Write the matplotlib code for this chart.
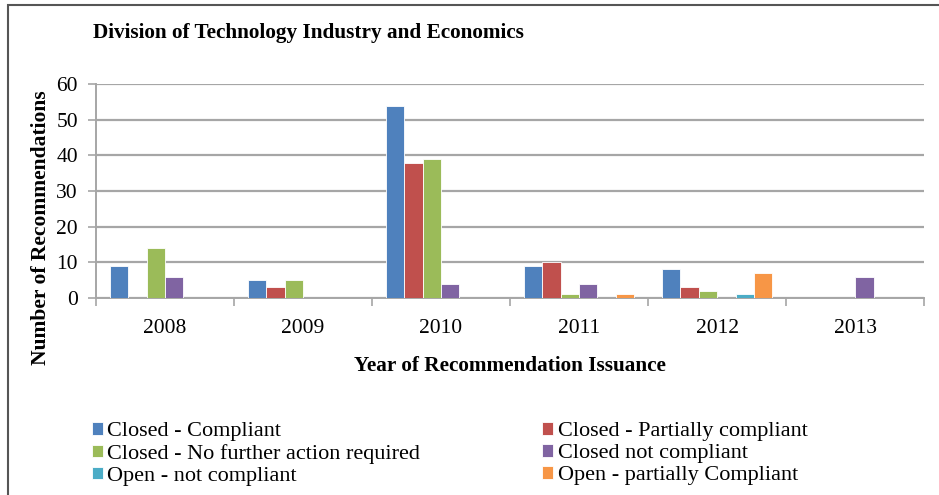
import numpy as np
from matplotlib import pyplot as plt
from matplotlib.patches import Rectangle

plt.rcParams['font.family'] = 'Liberation Serif'

# recommendations by year of issuance and status
years = ['2008', '2009', '2010', '2011', '2012', '2013']
closed_compliant = [9, 5, 54, 9, 8, 0]
closed_partial = [0, 3, 38, 10, 3, 0]
closed_no_action = [14, 5, 39, 1, 2, 0]
closed_not_compliant = [6, 0, 4, 4, 0, 6]
open_not_compliant = [0, 0, 0, 0, 1, 0]
open_partial = [0, 0, 0, 1, 7, 0]

series = [
    ('Closed - Compliant', closed_compliant, '#4F81BD'),
    ('Closed - Partially compliant', closed_partial, '#C0504D'),
    ('Closed - No further action required', closed_no_action, '#9BBB59'),
    ('Closed not compliant', closed_not_compliant, '#8064A2'),
    ('Open - not compliant', open_not_compliant, '#4BACC6'),
    ('Open - partially Compliant', open_partial, '#F79646'),
]

fig = plt.figure(figsize=(9.39, 4.95), dpi=100)
ax = fig.add_axes([0.1022, 0.398, 0.882, 0.432])

# excel-style clustered bars: gap width 150%
n = len(series)
bw = 1.0 / (n + 1.5)
x = np.arange(len(years))
handles = []
for i, (name, vals, col) in enumerate(series):
    b = ax.bar(x - 0.5 + 0.75 * bw + i * bw + bw / 2, vals, width=bw,
               color=col, edgecolor='white', linewidth=0.6, label=name, zorder=3)
    handles.append(b)

ax.set_xlim(-0.5, len(years) - 0.5)
ax.set_ylim(0, 60)
ax.set_yticks(range(0, 61, 10))
ax.yaxis.grid(True, color='#A6A6A6', linewidth=1.6, zorder=0)
ax.set_xticks(np.arange(-0.5, len(years), 1.0))
ax.set_xticklabels([])
ax.set_xticks(x, minor=True)
ax.set_xticklabels(years, minor=True, fontsize=15.5)
ax.tick_params(axis='x', which='minor', length=0, pad=15)
ax.tick_params(axis='x', which='major', length=6, width=1.2, color='#A6A6A6', direction='out')
ax.tick_params(axis='y', length=6, width=1.2, color='#A6A6A6', labelsize=15.5, pad=7)
for s in ['top', 'right']:
    ax.spines[s].set_visible(False)
for s in ['left', 'bottom']:
    ax.spines[s].set_color('#A6A6A6')
    ax.spines[s].set_linewidth(1.4)

ax.set_xlabel('Year of Recommendation Issuance', fontsize=15.3, fontweight='bold', labelpad=13)
ax.set_ylabel('Number of Recommendations', fontsize=15.5, fontweight='bold')
ax.yaxis.set_label_coords(-0.054, 0.33)

fig.text(0.099, 0.933, 'Division of Technology Industry and Economics',
         fontsize=15.3, fontweight='bold', va='center')

# two-column legend, filled row by row
order = [0, 2, 4, 1, 3, 5]
fig.legend([handles[i] for i in order], [series[i][0] for i in order],
           ncol=2, loc='upper left', bbox_to_anchor=(0.088, 0.165), frameon=False,
           fontsize=16, handlelength=0.5, handleheight=0.5, handletextpad=0.2,
           labelspacing=0.12, columnspacing=5.5, borderaxespad=0)

# chart border
fig.patches.append(Rectangle((0.009, -0.1), 1.2, 1.09, transform=fig.transFigure,
                             fill=False, edgecolor='#555555', linewidth=1.5))

fig.savefig('out.png', dpi=100)
